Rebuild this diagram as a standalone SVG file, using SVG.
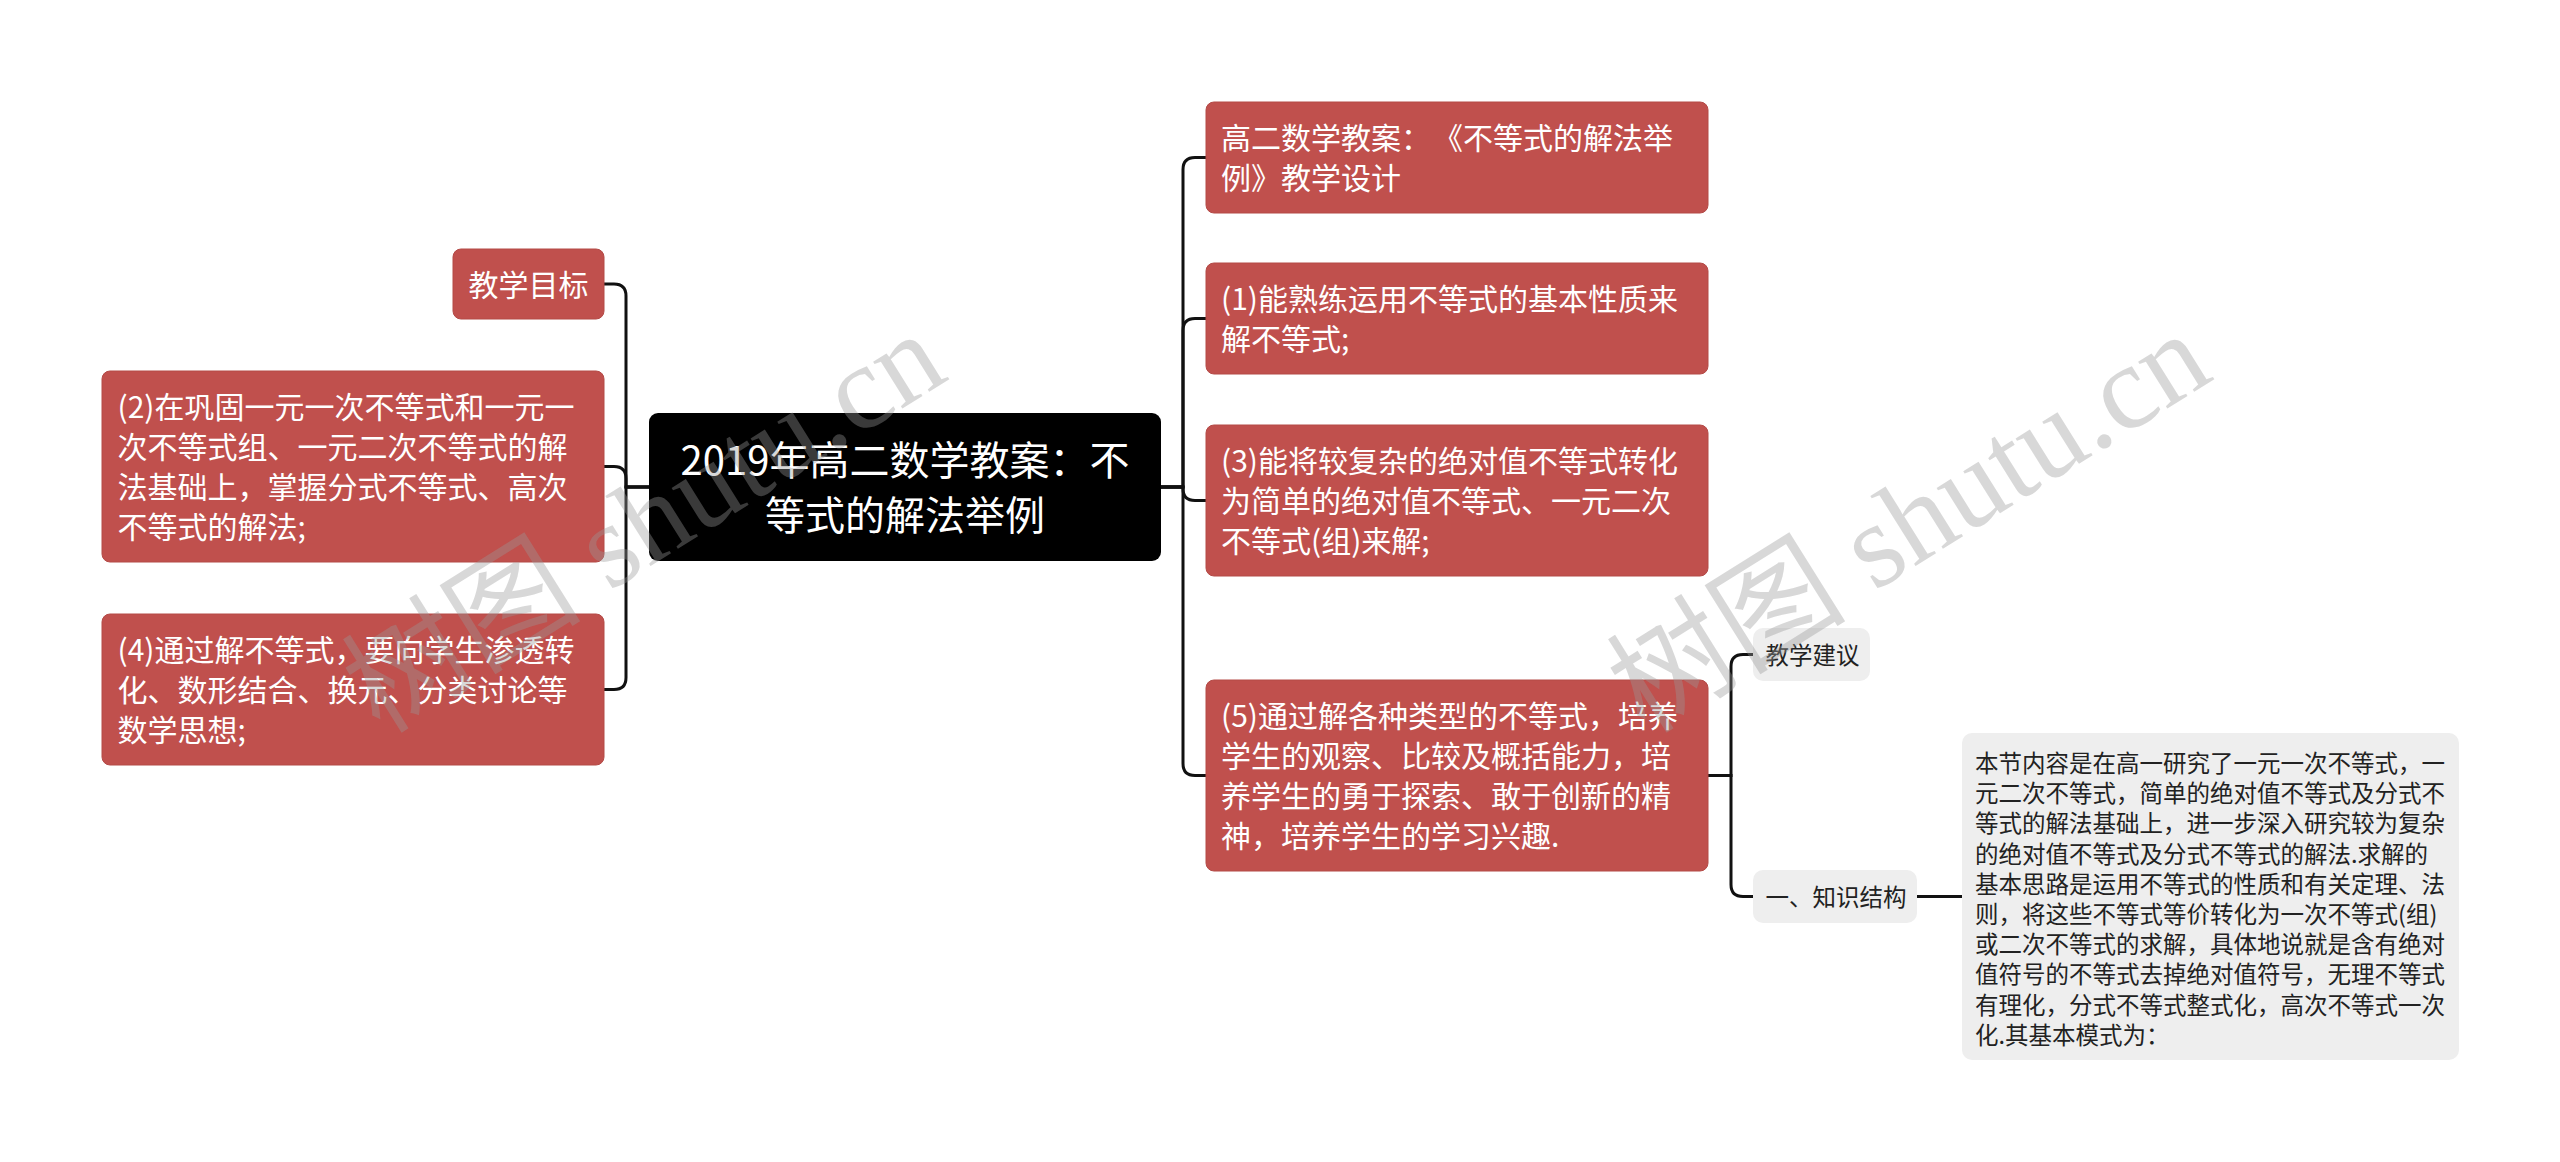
<svg xmlns="http://www.w3.org/2000/svg" width="2560" height="1162" viewBox="0 0 2560 1162">
<style>
.red{fill:#c0504d;stroke:#b44a47;stroke-width:1}
.root{fill:#000}
.gray{fill:#eeeeee}
.tw{font-family:"Noto Sans CJK SC","Noto Sans",sans-serif;font-size:30px;fill:#ffffff;text-spacing-trim:space-all}
.tr{font-family:"Noto Sans CJK SC","Noto Sans",sans-serif;font-size:40px;fill:#ffffff;text-anchor:middle;text-spacing-trim:space-all}
.tg{font-family:"Noto Sans CJK SC","Noto Sans",sans-serif;font-size:23.5px;fill:#222222;text-spacing-trim:space-all}
.conn{fill:none;stroke:#111;stroke-width:3}
.wm{font-family:"Liberation Serif","Noto Sans CJK SC",serif;font-size:120px;fill:#999999;fill-opacity:0.38}
</style>
<rect width="2560" height="1162" fill="#ffffff"/>
<g id="connectors">
<path class="conn" d="M649 487 H626 V296 Q626 284 614 284 H604"/>
<path class="conn" d="M649 487 H626 V478.5 Q626 466.5 614 466.5 H604"/>
<path class="conn" d="M649 487 H626 V677.5 Q626 689.5 614 689.5 H604"/>
<path class="conn" d="M1161 487 H1183 V169.5 Q1183 157.5 1195 157.5 H1206"/>
<path class="conn" d="M1161 487 H1183 V330.5 Q1183 318.5 1195 318.5 H1206"/>
<path class="conn" d="M1161 487 H1183 V488.5 Q1183 500.5 1195 500.5 H1206"/>
<path class="conn" d="M1161 487 H1183 V763.5 Q1183 775.5 1195 775.5 H1206"/>
<path class="conn" d="M1708 775.5 H1731 V666.5 Q1731 654.5 1743 654.5 H1753"/>
<path class="conn" d="M1708 775.5 H1731 V884.5 Q1731 896.5 1743 896.5 H1753"/>
<path class="conn" d="M1917 896.5 H1962"/>
</g>
<g id="root">
<rect class="root" x="649" y="413" width="512" height="148" rx="9"/>
<text class="tr" x="905" y="475">2019年高二数学教案：不</text>
<text class="tr" x="905" y="530">等式的解法举例</text>
</g>
<g id="n-goal">
<rect class="red" x="453" y="249" width="151" height="70" rx="8"/>
<text class="tw" x="468.5" y="295.5">教学目标</text>
</g>
<g id="n-2">
<rect class="red" x="102" y="371" width="502" height="191" rx="8"/>
<text class="tw" x="117.5" y="417.5">(2)在巩固一元一次不等式和一元一</text>
<text class="tw" x="117.5" y="457.5">次不等式组、一元二次不等式的解</text>
<text class="tw" x="117.5" y="497.5">法基础上，掌握分式不等式、高次</text>
<text class="tw" x="117.5" y="537.5">不等式的解法;</text>
</g>
<g id="n-4">
<rect class="red" x="102" y="614" width="502" height="151" rx="8"/>
<text class="tw" x="117.5" y="660.5">(4)通过解不等式，要向学生渗透转</text>
<text class="tw" x="117.5" y="700.5">化、数形结合、换元、分类讨论等</text>
<text class="tw" x="117.5" y="740.5">数学思想;</text>
</g>
<g id="n-title">
<rect class="red" x="1206" y="102" width="502" height="111" rx="8"/>
<text class="tw" x="1221" y="148.5">高二数学教案：<tspan x="1433">《不等式的解法举</tspan></text>
<text class="tw" x="1221" y="188.5">例》教学设计</text>
</g>
<g id="n-1">
<rect class="red" x="1206" y="263" width="502" height="111" rx="8"/>
<text class="tw" x="1221" y="309.5">(1)能熟练运用不等式的基本性质来</text>
<text class="tw" x="1221" y="349.5">解不等式;</text>
</g>
<g id="n-3">
<rect class="red" x="1206" y="425" width="502" height="151" rx="8"/>
<text class="tw" x="1221" y="471.5">(3)能将较复杂的绝对值不等式转化</text>
<text class="tw" x="1221" y="511.5">为简单的绝对值不等式、一元二次</text>
<text class="tw" x="1221" y="551.5">不等式(组)来解;</text>
</g>
<g id="n-5">
<rect class="red" x="1206" y="680" width="502" height="191" rx="8"/>
<text class="tw" x="1221" y="726.5">(5)通过解各种类型的不等式，培养</text>
<text class="tw" x="1221" y="766.5">学生的观察、比较及概括能力，培</text>
<text class="tw" x="1221" y="806.5">养学生的勇于探索、敢于创新的精</text>
<text class="tw" x="1221" y="846.5">神，培养学生的学习兴趣.</text>
</g>
<g id="n-advice">
<rect class="gray" x="1753" y="628" width="117" height="53" rx="10"/>
<text class="tg" x="1765.5" y="663.5">教学建议</text>
</g>
<g id="n-structure">
<rect class="gray" x="1753" y="870" width="164" height="53" rx="10"/>
<text class="tg" x="1765.5" y="905.5">一、知识结构</text>
</g>
<g id="n-text">
<rect class="gray" x="1962" y="733" width="497" height="327" rx="10"/>
<text class="tg" x="1975" y="772">本节内容是在高一研究了一元一次不等式，一</text>
<text class="tg" x="1975" y="802.2">元二次不等式，简单的绝对值不等式及分式不</text>
<text class="tg" x="1975" y="832.4">等式的解法基础上，进一步深入研究较为复杂</text>
<text class="tg" x="1975" y="862.6">的绝对值不等式及分式不等式的解法.求解的</text>
<text class="tg" x="1975" y="892.8">基本思路是运用不等式的性质和有关定理、法</text>
<text class="tg" x="1975" y="923">则，将这些不等式等价转化为一次不等式(组)</text>
<text class="tg" x="1975" y="953.2">或二次不等式的求解，具体地说就是含有绝对</text>
<text class="tg" x="1975" y="983.4">值符号的不等式去掉绝对值符号，无理不等式</text>
<text class="tg" x="1975" y="1013.6">有理化，分式不等式整式化，高次不等式一次</text>
<text class="tg" x="1975" y="1043.8">化.其基本模式为：</text>
</g>
<g id="watermarks">
<text class="wm" x="0" y="0" transform="translate(380 735) rotate(-32)">树图 shutu.cn</text>
<text class="wm" x="0" y="0" transform="translate(1645 735) rotate(-32)">树图 shutu.cn</text>
</g>
</svg>
